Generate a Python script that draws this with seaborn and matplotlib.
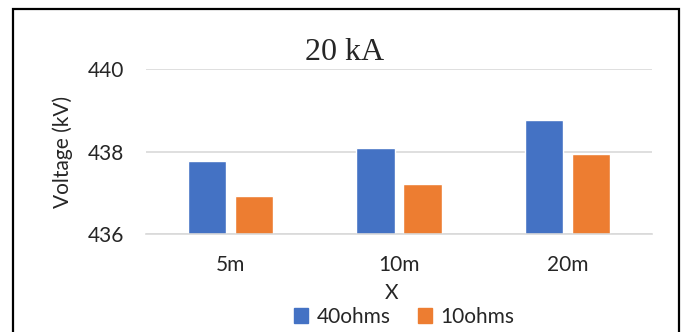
import matplotlib
matplotlib.use("Agg")
import matplotlib.pyplot as plt
import matplotlib.patches as mpatches
import seaborn as sns
import pandas as pd

# values
distances = ["5m", "10m", "20m"]
series_names = ["40ohms", "10ohms"]
v_40ohms = [437.76, 438.08, 438.77]
v_10ohms = [436.92, 437.22, 437.95]
y_ticks = [436, 438, 440]

colors = ["#4472C4", "#ED7D31"]

df = pd.DataFrame({
    "X": distances * 2,
    "Voltage": v_40ohms + v_10ohms,
    "series": [series_names[0]] * 3 + [series_names[1]] * 3,
})

sns.set_style("white")
plt.rcParams["font.family"] = ["Lato", "DejaVu Sans"]
fs = 15

fig = plt.figure(figsize=(6.88, 3.32), dpi=100)
ax = fig.add_axes([146 / 688, 1 - 234 / 332, 506 / 688, 165 / 332])

sns.barplot(data=df, x="X", y="Voltage", hue="series", palette=colors,
            width=0.557, gap=0.19, ax=ax, legend=False, saturation=1)

ax.set_ylim(436, 440)
ax.set_yticks(y_ticks)
ax.set_yticklabels([str(t) for t in y_ticks], fontsize=fs)
ax.set_xticks(range(len(distances)))
ax.set_xticklabels(distances, fontsize=fs)
ax.tick_params(axis="y", length=0, pad=16)
ax.tick_params(axis="x", length=0, pad=15)
ax.yaxis.grid(True, color="#d9d9d9", linewidth=1.2)
ax.set_axisbelow(True)
for side in ["left", "right", "top"]:
    ax.spines[side].set_visible(False)
ax.spines["bottom"].set_color("#d9d9d9")
ax.spines["bottom"].set_linewidth(1.2)

ax.set_xlabel("X", fontsize=fs)
ax.xaxis.set_label_coords(0.485, -0.295)
ax.set_ylabel("Voltage (kV)", fontsize=fs)
ax.yaxis.set_label_coords(-0.145, 0.5)

fig.text(345 / 688, 1 - 60 / 332, "20 kA", family="Liberation Serif",
         fontsize=23, ha="center", va="baseline")

handles = [mpatches.Patch(color=c, label=n) for c, n in zip(colors, series_names)]
fig.legend(handles=handles, loc="center", bbox_to_anchor=(404 / 688, 1 - 317 / 332),
           ncol=2, frameon=False, fontsize=fs, handlelength=0.7, handleheight=0.7,
           handletextpad=0.4, columnspacing=1.3)

# outer chart border (bottom edge runs off the image)
fig.add_artist(mpatches.Rectangle((13 / 688, -0.05), 666 / 688, 1.05 - 9 / 332,
                                  transform=fig.transFigure, fill=False,
                                  edgecolor="black", linewidth=1.6))

fig.savefig("out.png", dpi=100)
